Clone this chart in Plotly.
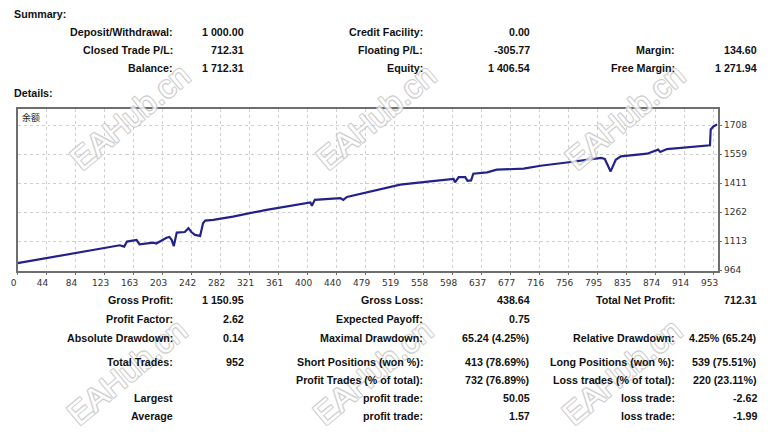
import plotly.graph_objects as go

# ---------------- data ----------------
trade_index = [0, 35, 76, 113, 140, 146, 150, 163, 167, 186, 190, 204, 208, 211, 214, 218,
               229, 234, 238, 243, 250, 254, 257, 268, 295, 341, 387, 401, 403, 407, 442,
               446, 451, 478, 501, 524, 565, 597, 599, 604, 613, 616, 621, 624, 643, 656,
               693, 716, 752, 799, 804, 812, 819, 826, 862, 877, 880, 889, 948, 949, 953, 958]
balance = [1000, 1023, 1051, 1077, 1092, 1085, 1111, 1119, 1097, 1105, 1101, 1131, 1135, 1120,
           1088, 1157, 1160, 1180, 1160, 1145, 1140, 1205, 1219, 1222, 1239, 1274, 1305, 1312,
           1295, 1325, 1334, 1325, 1340, 1363, 1386, 1403, 1420, 1432, 1415, 1442, 1442, 1423,
           1425, 1459, 1466, 1480, 1485, 1500, 1517, 1540, 1535, 1471, 1531, 1548, 1562, 1583,
           1571, 1586, 1605, 1686, 1703, 1712]

x_tick_labels = ["0", "44", "84", "123", "163", "203", "242", "282", "321", "361", "400", "440",
                 "479", "519", "558", "598", "637", "677", "716", "756", "795", "835", "874",
                 "914", "953"]
y_tick_values = [964, 1113, 1262, 1411, 1559, 1708]

summary_c1_labels = ["Deposit/Withdrawal:", "Closed Trade P/L:", "Balance:"]
summary_c1_values = ["1 000.00", "712.31", "1 712.31"]
summary_c2_labels = ["Credit Facility:", "Floating P/L:", "Equity:"]
summary_c2_values = ["0.00", "-305.77", "1 406.54"]
summary_c3_labels = ["", "Margin:", "Free Margin:"]
summary_c3_values = ["", "134.60", "1 271.94"]

details_c1_labels = ["Gross Profit:", "Profit Factor:", "Absolute Drawdown:", "Total Trades:", "",
                     "Largest", "Average"]
details_c1_values = ["1 150.95", "2.62", "0.14", "952", "", "", ""]
details_c2_labels = ["Gross Loss:", "Expected Payoff:", "Maximal Drawdown:",
                     "Short Positions (won %):", "Profit Trades (% of total):",
                     "profit trade:", "profit trade:"]
details_c2_values = ["438.64", "0.75", "65.24 (4.25%)", "413 (78.69%)", "732 (76.89%)",
                     "50.05", "1.57"]
details_c3_labels = ["Total Net Profit:", "", "Relative Drawdown:", "Long Positions (won %):",
                     "Loss trades (% of total):", "loss trade:", "loss trade:"]
details_c3_values = ["712.31", "", "4.25% (65.24)", "539 (75.51%)", "220 (23.11%)",
                     "-2.62", "-1.99"]

chart_label = "余额"
watermark = "EAHub.cn"

# ---------------- layout constants ----------------
OFF = 8                      # page body margin of the html page
W, H = 784 - OFF, 436 - OFF  # figure size so that figure + margin fills the window
PL, PR, PT, PB = 17.5, 717.5, 108.5, 270.7   # plot box in window pixels
X_MAX = 958.3
LAST_TICK = 953
FONT = "'Liberation Sans', Arial, sans-serif"
TXT_SIZE = 10.7

def px(x):
    return (x - OFF) / W

def py(y):
    return 1 - (y - OFF) / H

fig = go.Figure()
fig.add_trace(go.Scatter(x=trade_index, y=balance, mode="lines",
                         line=dict(color="#22228a", width=2.2), hoverinfo="skip",
                         showlegend=False))

annotations = []

# watermarks (drawn first so the real texts sit on top)
wm_pos = [(130, 117), (376, 117), (625, 117), (127, 372), (373, 372), (622, 372)]
for (wx, wy) in wm_pos:
    annotations.append(dict(
        x=px(wx), y=py(wy), xref="paper", yref="paper", text=watermark, showarrow=False,
        textangle=-40, xanchor="center", yanchor="middle", opacity=0.8,
        font=dict(family="'Liberation Sans', sans-serif", size=32, color="#ffffff",
                  shadow="-1px -1px 0 #c2c2c2, 1px -1px 0 #c2c2c2, -1px 1px 0 #c2c2c2, 1px 1px 0 #c2c2c2")))

def add_text(txt, x_right, y, anchor="right"):
    if not txt:
        return
    annotations.append(dict(x=px(x_right), y=py(y), xref="paper", yref="paper", text=txt,
                            showarrow=False, xanchor=anchor, yanchor="middle",
                            font=dict(family=FONT, size=TXT_SIZE, color="#111111",
                                      weight="bold")))

add_text("Summary:", 12, 14, anchor="left")
add_text("Details:", 12, 93, anchor="left")

sum_rows = [32, 50, 68.5]
for i, yy in enumerate(sum_rows):
    add_text(summary_c1_labels[i], 175, yy)
    add_text(summary_c1_values[i], 246, yy)
    add_text(summary_c2_labels[i], 425, yy)
    add_text(summary_c2_values[i], 532, yy)
    add_text(summary_c3_labels[i], 677, yy)
    add_text(summary_c3_values[i], 759, yy)

det_rows = [300, 319, 338, 362, 380, 397.5, 415.5]
for i, yy in enumerate(det_rows):
    add_text(details_c1_labels[i], 175, yy)
    add_text(details_c1_values[i], 246, yy)
    add_text(details_c2_labels[i], 425, yy)
    add_text(details_c2_values[i], 532, yy)
    add_text(details_c3_labels[i], 677, yy)
    add_text(details_c3_values[i], 759, yy)

annotations.append(dict(x=px(20), y=py(117), xref="paper", yref="paper", text=chart_label,
                        showarrow=False, xanchor="left", yanchor="middle",
                        font=dict(family="'Noto Sans CJK SC', sans-serif", size=9,
                                  color="#222222")))

step = LAST_TICK / (len(x_tick_labels) - 1)
x_tick_pos = [i * step for i in range(len(x_tick_labels))]

tick_font = dict(family="'DejaVu Sans', sans-serif", size=9, color="#333333")

fig.update_layout(
    width=W, height=H, autosize=False,
    margin=dict(l=0, r=0, t=0, b=0),
    paper_bgcolor="white", plot_bgcolor="white",
    annotations=annotations,
    xaxis=dict(domain=[px(PL), px(PR)], range=[0, X_MAX], tickmode="array",
               tickvals=x_tick_pos, ticktext=x_tick_labels, showgrid=True,
               gridcolor="#cfcfcf", griddash="3px,3px", gridwidth=1, zeroline=False,
               showline=True, mirror=True, linecolor="#6e6e6e", linewidth=1.5,
               ticks="outside", ticklen=3, tickcolor="#6e6e6e", ticklabelshift=-4,
               tickfont=tick_font, automargin=False, fixedrange=True),
    yaxis=dict(domain=[py(PB), py(PT)], range=[961.5, 1794], side="right",
               tickmode="array", tickvals=y_tick_values,
               showgrid=True, gridcolor="#cfcfcf", griddash="3px,3px", gridwidth=1,
               zeroline=False, showline=True, mirror=True, linecolor="#6e6e6e",
               linewidth=1.5, ticks="outside", ticklen=3, tickcolor="#6e6e6e",
               tickfont=tick_font, automargin=False, fixedrange=True),
)

fig.write_html("out.html")
